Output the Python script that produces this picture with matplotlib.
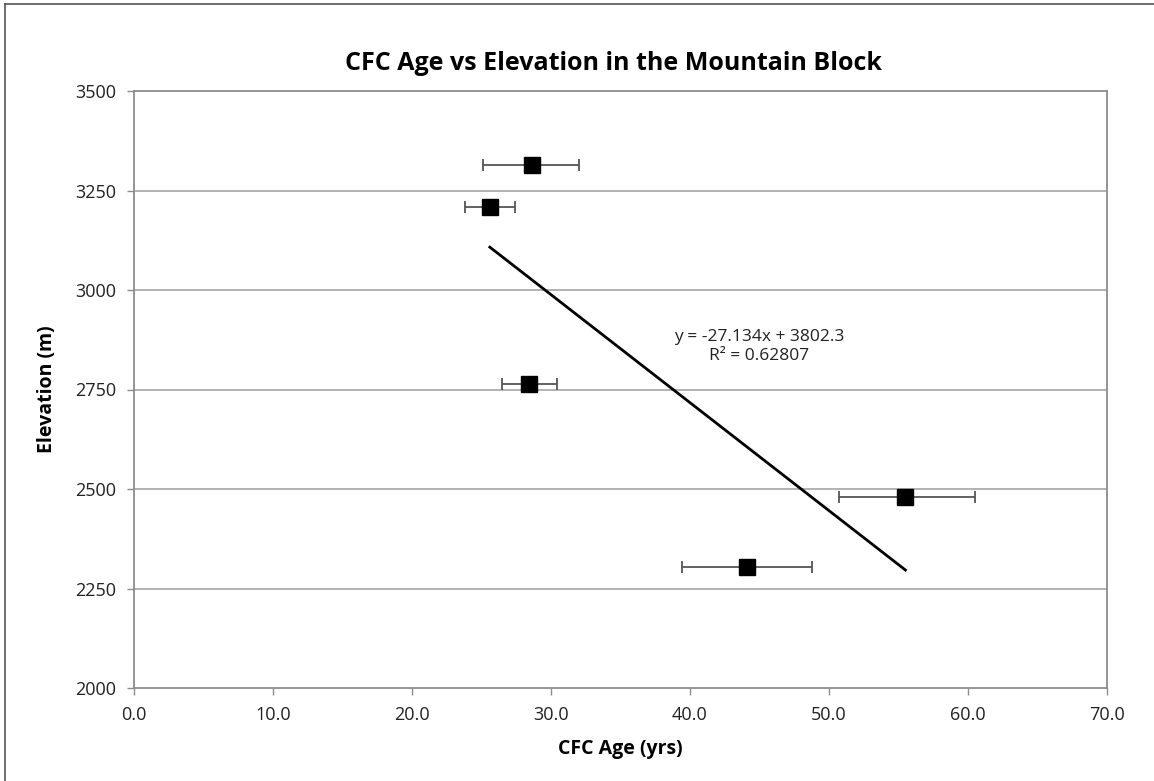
import matplotlib
matplotlib.use("Agg")
import matplotlib.pyplot as plt
from matplotlib.lines import Line2D

# Sample data
cfc_age = [28.6, 25.6, 28.4, 55.5, 44.1]
elevation = [3314, 3209, 2763, 2480, 2304]
age_err_low = [3.5, 1.8, 1.9, 4.8, 4.7]
age_err_high = [3.4, 1.8, 2.0, 5.0, 4.7]

# Linear trendline reported on the chart
slope = -27.134
intercept = 3802.3
r_squared = 0.62807

x_ticks = [0, 10, 20, 30, 40, 50, 60, 70]
y_ticks = [2000, 2250, 2500, 2750, 3000, 3250, 3500]

plt.rcParams["font.family"] = ["Open Sans", "DejaVu Sans"]

fig = plt.figure(figsize=(11.54, 7.81), dpi=100)
ax = fig.add_axes([134 / 1154, 1 - 688 / 781, (1107 - 134) / 1154, (688 - 91) / 781])

grid_col = "#a6a6a6"
for yv in y_ticks[1:-1]:
    ax.axhline(yv, color=grid_col, lw=1.2, zorder=0)

ax.errorbar(
    cfc_age, elevation,
    xerr=[age_err_low, age_err_high],
    fmt="s", color="black", ms=11, mec="black",
    ecolor="#555555", elinewidth=1.3, capsize=4, capthick=1.3,
    zorder=3,
)

# trendline over the range of the data
x0, x1 = min(cfc_age), max(cfc_age)
ax.plot([x0, x1], [slope * x0 + intercept, slope * x1 + intercept],
        color="black", lw=2, zorder=2)

ax.text(45.0, 2858, f"y = {slope}x + {intercept}\nR\u00b2 = {r_squared}",
        ha="center", va="center", fontsize=12.5, linespacing=1.25, color="#222222")

ax.set_xlim(0, 70)
ax.set_ylim(2000, 3500)
ax.set_xticks(x_ticks)
ax.set_xticklabels([f"{v:.1f}" for v in x_ticks])
ax.set_yticks(y_ticks)
ax.tick_params(axis="both", direction="out", length=5, width=1, color="#8c8c8c",
               labelsize=13, labelcolor="#222222")
ax.tick_params(axis="x", pad=8)
ax.tick_params(axis="y", pad=8)
for side in ax.spines.values():
    side.set_color("#8c8c8c")
    side.set_linewidth(1.3)

ax.set_xlabel("CFC Age (yrs)", fontsize=14, fontweight="bold", labelpad=11)
ax.set_ylabel("Elevation (m)", fontsize=14, fontweight="bold", labelpad=13)
fig.text(0.532, 1 - 63 / 781, "CFC Age vs Elevation in the Mountain Block",
         ha="center", va="center", fontsize=18, fontweight="bold")

# outer frame edge of the chart area (left and top visible)
fig.add_artist(Line2D([5 / 1154, 5 / 1154], [0, 1 - 4 / 781], color="#555555", lw=1.2))
fig.add_artist(Line2D([5 / 1154, 1], [1 - 4 / 781, 1 - 4 / 781], color="#555555", lw=1.2))

fig.savefig("out.png", dpi=100)
